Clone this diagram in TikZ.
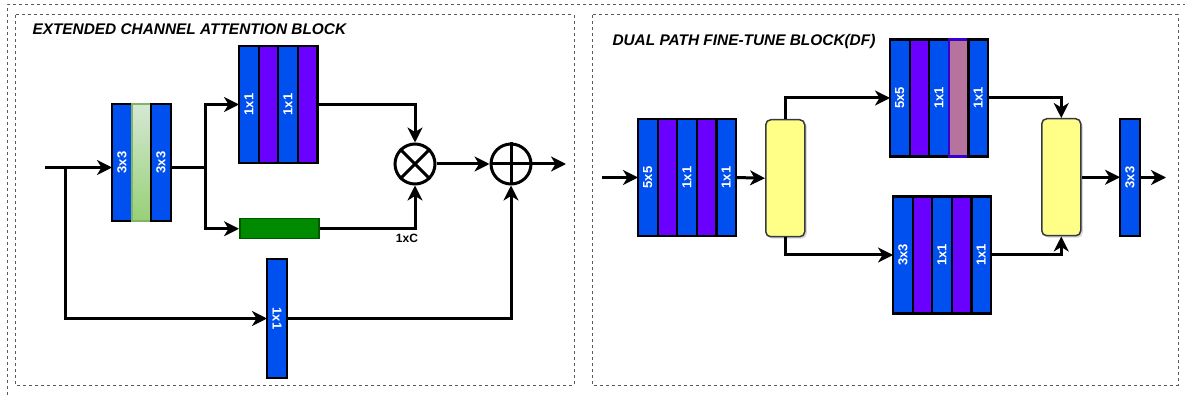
\documentclass[tikz,border=0pt]{standalone}
\usepackage{fontspec}
\setmainfont{Liberation Sans}
\usepackage{xcolor}
\usepackage{tikz}
\usetikzlibrary{positioning, arrows.meta, shadows}

\definecolor{convblue}{HTML}{0050EF}
\definecolor{convviolet}{HTML}{6A00FF}
\definecolor{convmauve}{HTML}{B5739D}
\definecolor{mauveline}{HTML}{3700CC}
\definecolor{barfill}{HTML}{008A00}
\definecolor{barline}{HTML}{005700}
\definecolor{lgtop}{HTML}{D5E8D4}
\definecolor{lgbot}{HTML}{97D077}
\definecolor{lgline}{HTML}{82B366}
\definecolor{fusefill}{HTML}{FFFF88}
\definecolor{fuseline}{HTML}{36393D}

\tikzset{
    frame/.style={draw=black!65, line width=1pt, dash pattern=on 3pt off 3pt},
    title/.style={inner sep=0pt, font=\fontsize{15.4}{18}\selectfont\bfseries\itshape},
    strip/.style={draw, line width=2.2pt, outer sep=0pt, inner sep=0pt, minimum width=19.6pt, minimum height=117pt, text=white, font=\fontsize{13}{14}\selectfont\bfseries},
    bluestrip/.style={strip, fill=convblue},
    violetstrip/.style={strip, fill=convviolet},
    mauvestrip/.style={strip, fill=convmauve, draw=mauveline},
    greenstrip/.style={strip, draw=lgline, top color=lgtop, bottom color=lgbot},
    bar/.style={draw=barline, fill=barfill, line width=1.5pt, minimum width=79pt, minimum height=20pt, inner sep=0pt},
    opnode/.style={draw, circle, line width=3pt, minimum size=40pt, inner sep=0pt},
    fuse/.style={draw=fuseline, fill=fusefill, line width=1.5pt, rounded corners=5pt, minimum width=39pt, minimum height=117pt, inner sep=0pt, drop shadow={shadow xshift=2pt, shadow yshift=-2pt, opacity=0.3}},
}

\begin{document}
\begin{tikzpicture}[x=1pt, y=-1pt, line width=3pt, >={Stealth[length=15pt, width=15pt, inset=4.5pt]}]
    \useasboundingbox (0,0) rectangle (1185,395);
    \draw[frame] (7,395) -- (7,5) -- (1185,5);
    \draw[frame] (15,15) rectangle (574,385);
    \draw[frame] (592,15) rectangle (1178,385);
    \node[title, anchor=west] (ecatitle) at (31,29) {EXTENDED CHANNEL ATTENTION BLOCK};
    \node[title, anchor=west] (dftitle) at (611,42) {DUAL PATH FINE-TUNE BLOCK(DF)};

    \coordinate (ecain) at (45,167.5);
    \coordinate (fork) at (65,167.5);
    \coordinate (split) at (205,167.5);
    \coordinate (ecaout) at (566,164);
    \node[bluestrip, anchor=north west] (c1) at (112,104) {\rotatebox{90}{3x3}};
    \node[greenstrip, right=0pt of c1] (c2) {};
    \node[bluestrip, right=0pt of c2] (c3) {\rotatebox{90}{3x3}};
    \node[bluestrip, anchor=north west] (a1) at (239,46) {\rotatebox{90}{1x1}};
    \node[violetstrip, right=0pt of a1] (a2) {};
    \node[bluestrip, right=0pt of a2] (a3) {\rotatebox{90}{1x1}};
    \node[violetstrip, right=0pt of a3] (a4) {};
    \node[bar, anchor=north west] (gap) at (239,218) {};
    \node[opnode] (mul) at (415,164) {};
    \draw[line width=3pt] (mul.north west) -- (mul.south east) (mul.north east) -- (mul.south west);
    \node[opnode] (add) at (511,164) {};
    \draw[line width=3pt] (add.north) -- (add.south) (add.west) -- (add.east);
    \node[font=\fontsize{12}{14}\selectfont\bfseries] (dim) at (407,238) {1xC};
    \node[bluestrip, minimum width=20pt, minimum height=119pt, anchor=north west] (s1) at (267,259) {\rotatebox{-90}{1x1}};

    \draw[->] (ecain) -- (ecain -| c1.west);
    \draw (c3.east |- split) -- (split);
    \draw[->] (split) |- (a1.west);
    \draw[->] (split) |- (gap.west);
    \draw[->] (a4.east) -| (mul.north);
    \draw[->] (gap.east) -| (mul.south);
    \draw[->] (mul.east) -- (add.west);
    \draw[->] (add.east) -- (ecaout);
    \draw[->] (fork) |- (s1.west);
    \draw[->] (s1.east) -| (add.south);

    \coordinate (dfin) at (602,177.5);
    \coordinate (dfout) at (1166,177.5);
    \node[bluestrip, anchor=north west] (d1) at (638,119) {\rotatebox{90}{5x5}};
    \node[violetstrip, right=0pt of d1] (d2) {};
    \node[bluestrip, right=0pt of d2] (d3) {\rotatebox{90}{1x1}};
    \node[violetstrip, right=0pt of d3] (d4) {};
    \node[bluestrip, right=0pt of d4] (d5) {\rotatebox{90}{1x1}};
    \node[fuse, anchor=north west] (f1) at (765,119) {};
    \node[bluestrip, anchor=north west] (u1) at (890,39.5) {\rotatebox{90}{5x5}};
    \node[violetstrip, right=0pt of u1] (u2) {};
    \node[bluestrip, right=0pt of u2] (u3) {\rotatebox{90}{1x1}};
    \node[mauvestrip, right=0pt of u3] (u4) {};
    \node[bluestrip, right=0pt of u4] (u5) {\rotatebox{90}{1x1}};
    \node[bluestrip, anchor=north west] (l1) at (893,196.5) {\rotatebox{90}{3x3}};
    \node[violetstrip, right=0pt of l1] (l2) {};
    \node[bluestrip, right=0pt of l2] (l3) {\rotatebox{90}{1x1}};
    \node[violetstrip, right=0pt of l3] (l4) {};
    \node[bluestrip, right=0pt of l4] (l5) {\rotatebox{90}{1x1}};
    \node[fuse, anchor=north west] (f2) at (1041,118) {};
    \node[bluestrip, minimum width=20pt, anchor=north west] (e1) at (1120,119) {\rotatebox{90}{3x3}};

    \draw[->] (dfin) -- (d1.west);
    \draw[->] (d5.east) -- (f1.west);
    \draw[->] (f1.north) |- (u1.west);
    \draw[->] (f1.south) |- (l1.west);
    \draw[->] (u5.east) -| (f2.north);
    \draw[->] (l5.east) -| (f2.south);
    \draw[->] (f2.east) -- (f2.east -| e1.west);
    \draw[->] (e1.east) -- (dfout);
\end{tikzpicture}
\end{document}
